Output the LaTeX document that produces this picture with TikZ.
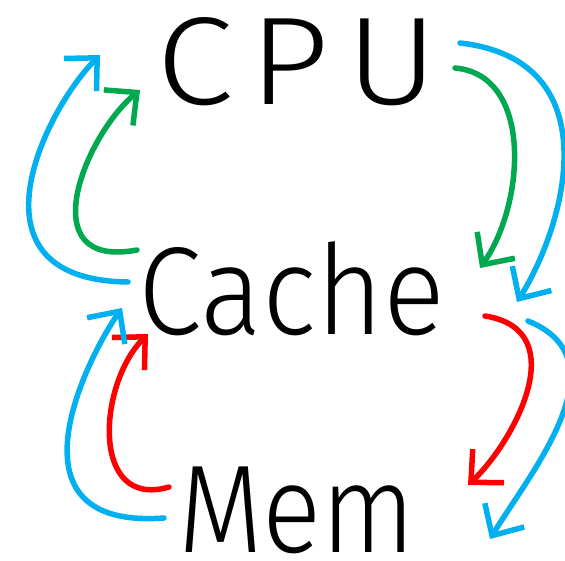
\documentclass[tikz,border=0pt]{standalone}
\usepackage{fontspec}
\usetikzlibrary{arrows.meta}

\newfontfamily\handfont{Fira Sans Light}

\definecolor{penblue}{RGB}{0,176,240}
\definecolor{pengreen}{RGB}{0,168,80}
\definecolor{penred}{RGB}{255,0,0}

\tikzset{
    word/.style={anchor=base, inner sep=0pt, font=\handfont\fontsize{125}{125}\selectfont},
    pen/.style={line width=5.5pt, line cap=round, line join=round, -{Straight Barb[length=24pt,width=46pt]}}
}

\begin{document}
\begin{tikzpicture}[x=1pt,y=1pt]
        \useasboundingbox (0,0) rectangle (565,560);

        \node[word] (cpu) at (297,455) {\scalebox{1.12}[1]{C\hspace{15pt}P\hspace{15pt}U}};
        \node[word] (cache) at (292,225) {\scalebox{0.92}[1]{Cache}};
        \node[word] (mem) at (297,8) {\scalebox{0.88}[1]{Mem}};

        % ends of the strokes
        \coordinate (gl1) at (137,310);
        \coordinate (gl2) at (140,470);
        \coordinate (bl1) at (128,278);
        \coordinate (bl2) at (100,505);
        \coordinate (gr1) at (455,492);
        \coordinate (gr2) at (480,292);
        \coordinate (br1) at (460,517);
        \coordinate (br2) at (517,258);
        \coordinate (rl1) at (169,73);
        \coordinate (rl2) at (148,226);
        \coordinate (bl3) at (164,42);
        \coordinate (bl4) at (122,252);
        \coordinate (rr1) at (485,244);
        \coordinate (rr2) at (468,75);
        \coordinate (br3) at (528,239);
        \coordinate (br4) at (490,21);

        % CPU <-> Cache
        \draw[pen, pengreen] (gl1) .. controls (30,290) and (85,425) .. (gl2);
        \draw[pen, penblue] (bl1) .. controls (-40,280) and (45,450) .. (bl2);
        \draw[pen, pengreen] (gr1) to[out=-5, in=55] (gr2);
        \draw[pen, penblue] (br1) .. controls (610,500) and (567,338) .. (br2);

        % Cache <-> Mem
        \draw[pen, penred] (rl1) .. controls (90,50) and (98,176) .. (rl2);
        \draw[pen, penblue] (bl3) .. controls (0,30) and (87,202) .. (bl4);
        \draw[pen, penred] (rr1) .. controls (575,230) and (513,117) .. (rr2);
        \draw[pen, penblue] (br3) .. controls (625,200) and (530,87) .. (br4);
\end{tikzpicture}
\end{document}
